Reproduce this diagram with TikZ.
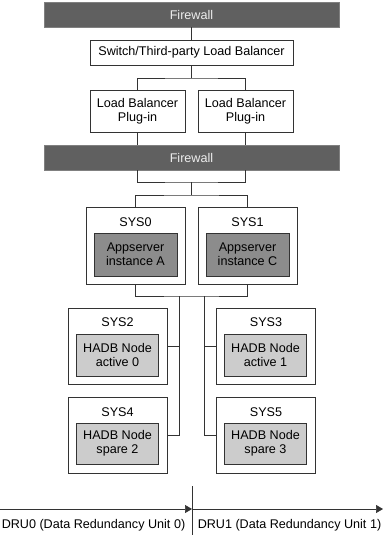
\documentclass[tikz,border=0pt]{standalone}
\usepackage{fontspec}
\setmainfont{Liberation Sans}
\usetikzlibrary{arrows.meta}
\definecolor{fwfill}{HTML}{606060}
\definecolor{fwline}{HTML}{808080}
\definecolor{appfill}{HTML}{8C8C8C}
\definecolor{hadbfill}{HTML}{CCCCCC}
\definecolor{ln}{HTML}{333333}
\begin{document}
\begin{tikzpicture}[x=1pt,y=-1pt,
  every node/.style={font=\fontsize{12.6}{14}\selectfont, inner sep=0pt, align=center},
  fwbox/.style={fill=fwfill, draw=fwline, line width=0.6pt, text=white!93!black, minimum width=295pt, minimum height=25pt},
  plainbox/.style={draw=ln, fill=white, line width=0.7pt},
  sysbox/.style={draw=ln, fill=white, line width=0.7pt, minimum width=99pt, minimum height=77pt},
  appbox/.style={draw=ln, fill=appfill, line width=0.7pt, minimum width=83pt, minimum height=43pt},
  hadbbox/.style={draw=ln, fill=hadbfill, line width=0.7pt, minimum width=82pt, minimum height=42pt},
  conn/.style={draw=ln, line width=0.7pt}]
\useasboundingbox (0,0) rectangle (384,535);
% top
\node[fwbox] (fw1) at (191.5,14.5) {Firewall};
\node[plainbox, minimum width=203pt, minimum height=25pt] (sw) at (191.5,52.5) {Switch/Third-party Load Balancer};
\node[plainbox, minimum width=95pt, minimum height=42pt] (lb1) at (137.5,111) {Load Balancer\\Plug-in};
\node[plainbox, minimum width=95pt, minimum height=42pt] (lb2) at (245.5,111) {Load Balancer\\Plug-in};
\node[fwbox] (fw2) at (191.5,157.5) {Firewall};
% app servers
\node[sysbox] (s0) at (135.5,245.5) {};
\node[sysbox] (s1) at (247.5,245.5) {};
\node (s0l) at (135.5,222) {SYS0};
\node (s1l) at (247.5,222) {SYS1};
\node[appbox] (a0) at (135.5,254.5) {Appserver\\instance A};
\node[appbox] (a1) at (247.5,254.5) {Appserver\\instance C};
% hadb
\node[sysbox, minimum height=76pt] (s2) at (117.5,346) {};
\node[sysbox, minimum height=76pt] (s3) at (266,346) {};
\node[sysbox, minimum height=76pt] (s4) at (117.5,435) {};
\node[sysbox, minimum height=76pt] (s5) at (266,435) {};
\node (s2l) at (117.5,322) {SYS2};
\node (s3l) at (266,322) {SYS3};
\node (s4l) at (117.5,412) {SYS4};
\node (s5l) at (266,412) {SYS5};
\node[hadbbox] (h0) at (117.5,355) {HADB Node\\active 0};
\node[hadbbox] (h1) at (265.5,355) {HADB Node\\active 1};
\node[hadbbox, minimum height=41pt] (h2) at (117.5,443.5) {HADB Node\\spare 2};
\node[hadbbox, minimum height=41pt] (h3) at (265.5,443.5) {HADB Node\\spare 3};
% coordinates
\coordinate (j1) at (191.5,78);
\coordinate (j2) at (191.5,182);
\coordinate (j3) at (191.5,195);
\coordinate (j4) at (191.5,296);
\coordinate (bl) at (179,296);
\coordinate (br) at (204,296);
% connectors
\draw[conn] (fw1.south) -- (sw.north);
\draw[conn] (sw.south) -- (j1);
\draw[conn] (lb1.north) |- (j1) -| (lb2.north);
\draw[conn] (lb1.south) -- (lb1.south |- fw2.north);
\draw[conn] (lb2.south) -- (lb2.south |- fw2.north);
\draw[conn] (fw2.south -| lb1.south) |- (j2) -| (fw2.south -| lb2.south);
\draw[conn] (j2) -- (j3);
\draw[conn] (s0.north) |- (j3) -| (s1.north);
\draw[conn] (s0.south) |- (j4) -| (s1.south);
\draw[conn] (bl) |- (s4.east);
\draw[conn] (br) |- (s5.west);
\draw[conn] (bl |- s2.east) -- (s2.east);
\draw[conn] (br |- s3.west) -- (s3.west);
% DRU axis
\coordinate (dtop) at (192,486);
\coordinate (dbot) at (192,535);
\coordinate (mid) at (192,509);
\coordinate (lft) at (0,509);
\coordinate (rgt) at (383,509);
\draw[conn] (dtop) -- (dbot);
\draw[conn, -{Triangle[length=7pt,width=8pt]}] (lft) -- (mid);
\draw[conn, -{Triangle[length=7pt,width=8pt]}] (mid) -- (rgt);
\node (d0) at (93.5,525) {DRU0 (Data Redundancy Unit 0)};
\node (d1) at (289.5,525) {DRU1 (Data Redundancy Unit 1)};
\end{tikzpicture}
\end{document}
